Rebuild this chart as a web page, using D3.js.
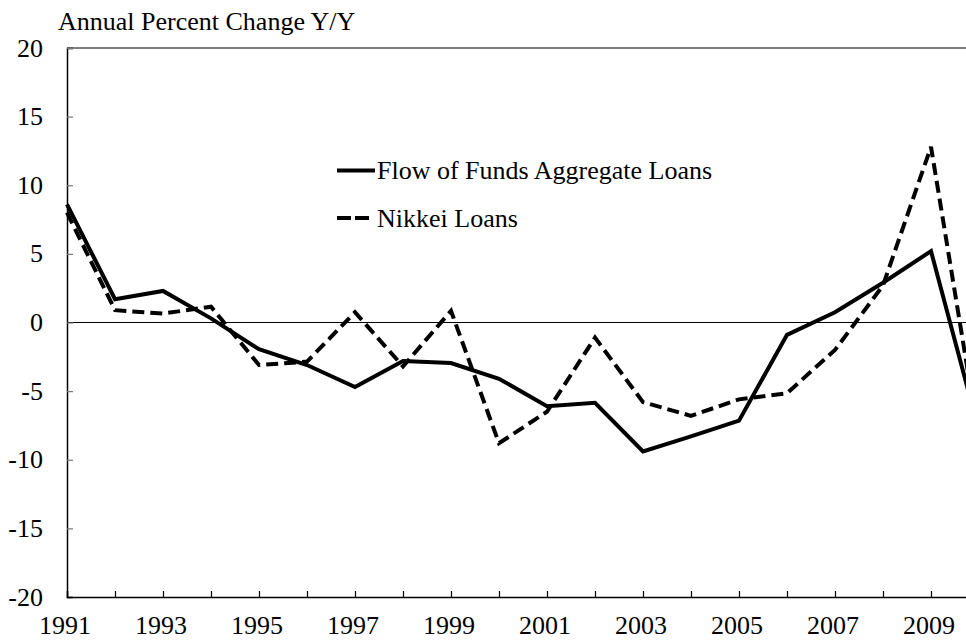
<!DOCTYPE html>
<html>
<head>
<meta charset="utf-8">
<script src="https://cdn.jsdelivr.net/npm/d3@7"></script>
<style>
  html, body { margin: 0; padding: 0; background: #fff; }
  svg { display: block; }
</style>
</head>
<body>
<svg id="chart" width="966" height="640"></svg>
<script>
const years = [1991,1992,1993,1994,1995,1996,1997,1998,1999,2000,2001,2002,2003,2004,2005,2006,2007,2008,2009,2010];
const flowOfFunds = [8.6,1.7,2.3,0.3,-1.95,-3.1,-4.7,-2.8,-2.95,-4.1,-6.1,-5.85,-9.4,-8.3,-7.15,-0.9,0.75,2.9,5.2,-7.9];
const nikkei = [8.0,0.9,0.65,1.15,-3.1,-2.85,0.75,-3.2,0.85,-8.8,-6.5,-1.1,-5.8,-6.8,-5.6,-5.15,-2.0,2.7,12.8,-8.5];
const yTicks = [20,15,10,5,0,-5,-10,-15,-20];
const xLabelYears = [1991,1993,1995,1997,1999,2001,2003,2005,2007,2009];
const seriesNames = ["Flow of Funds Aggregate Loans", "Nikkei Loans"];
const yTitle = "Annual Percent Change Y/Y";

(function () {
const FONT = "'Liberation Serif', 'DejaVu Serif', serif";
const svg = d3.select("#chart");
const mLeft = 67, mTop = 48, mBottom = 597;
const x = d3.scaleLinear().domain([1991, 2010]).range([mLeft, mLeft + 19 * 48]);
const y = d3.scaleLinear().domain([-20, 20]).range([mBottom, mTop]);
const xEnd = x(2010);

function txt(xp, yp, s, anchor) {
  return svg.append("text").attr("x", xp).attr("y", yp)
    .attr("text-anchor", anchor || "start")
    .attr("font-family", FONT).attr("font-size", 26).attr("fill", "#000").text(s);
}

// frame: top border
svg.append("line").attr("x1", mLeft).attr("x2", xEnd).attr("y1", y(20)).attr("y2", y(20))
  .attr("stroke", "#000").attr("stroke-width", 1.2);

// zero line
svg.append("line").attr("x1", mLeft).attr("x2", xEnd).attr("y1", y(0)).attr("y2", y(0))
  .attr("stroke", "#000").attr("stroke-width", 1.2);

// Y axis
const yAxis = d3.axisRight(y).tickValues(yTicks).tickSize(6).tickFormat("");
const gy = svg.append("g").attr("transform", `translate(${mLeft},0)`).call(yAxis);
gy.select(".domain").attr("stroke", "#000").attr("stroke-width", 1.5);
gy.selectAll(".tick line").attr("stroke", "#777").attr("stroke-width", 1.2);
yTicks.forEach(v => txt(43, y(v) + 8.5, v, "end"));

// X axis
const xAxis = d3.axisTop(x).tickValues(years).tickSize(6).tickFormat("");
const gx = svg.append("g").attr("transform", `translate(0,${mBottom})`).call(xAxis);
gx.select(".domain").attr("stroke", "#000").attr("stroke-width", 1.5);
gx.selectAll(".tick line").attr("stroke", "#000").attr("stroke-width", 1.2);
xLabelYears.forEach(yr => txt(x(yr) - 2, 634, yr, "middle"));

// title
txt(58, 30, yTitle);

// lines
const line = d3.line().x((d, i) => x(years[i])).y(d => y(d));
svg.append("path").datum(flowOfFunds).attr("d", line)
  .attr("fill", "none").attr("stroke", "#000").attr("stroke-width", 4).attr("stroke-linejoin", "miter");
svg.append("path").datum(nikkei).attr("d", line)
  .attr("fill", "none").attr("stroke", "#000").attr("stroke-width", 4)
  .attr("stroke-dasharray", "12,6").attr("stroke-linejoin", "miter");

// legend
svg.append("line").attr("x1", 337).attr("x2", 375).attr("y1", 170.5).attr("y2", 170.5)
  .attr("stroke", "#000").attr("stroke-width", 4);
txt(377, 179, seriesNames[0]);
svg.append("line").attr("x1", 337).attr("x2", 369).attr("y1", 218).attr("y2", 218)
  .attr("stroke", "#000").attr("stroke-width", 4).attr("stroke-dasharray", "14,4");
txt(377, 226.5, seriesNames[1]);
})();
</script>
</body>
</html>
